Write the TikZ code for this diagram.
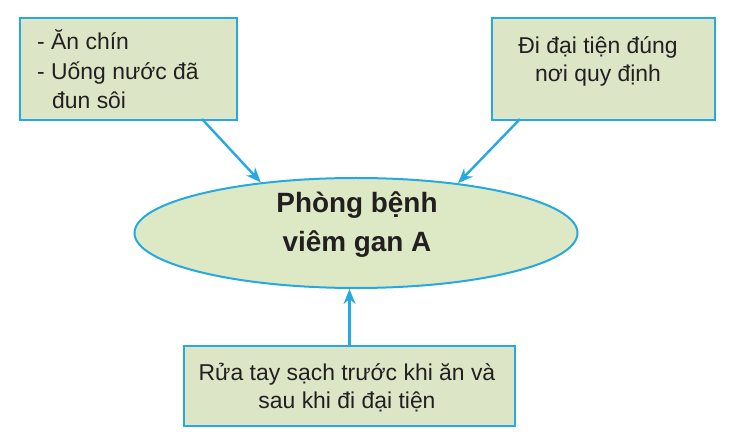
\documentclass[tikz,border=0pt]{standalone}
\usepackage{fontspec}
\setmainfont{Liberation Sans}
\usetikzlibrary{arrows.meta,shapes.geometric}
\definecolor{boxfill}{RGB}{220,230,198}
\definecolor{ellfill}{RGB}{221,233,196}
\definecolor{edge}{RGB}{38,168,224}
\definecolor{ink}{RGB}{35,31,32}
\begin{document}
\begin{tikzpicture}[x=1bp,y=-1bp,
  box/.style={draw=edge,line width=2bp,fill=boxfill,inner sep=0,anchor=north west},
  txt/.style={text=ink,font=\fontsize{23}{29}\selectfont,inner sep=0},
  title/.style={text=ink,font=\fontsize{28}{36}\selectfont\bfseries,inner sep=0,anchor=base},
  arr/.style={draw=edge,line width=2.4bp,-{Stealth[length=15bp,width=12bp,inset=5bp]}}]
\useasboundingbox (0,0) rectangle (732,447);
% boxes
\node[box,minimum width=217bp,minimum height=102bp] (lbox) at (19,17) {};
\node[box,minimum width=223bp,minimum height=102bp] (rbox) at (491,17) {};
\node[box,minimum width=331bp,minimum height=80bp] (bbox) at (183,345) {};
\node[draw=edge,line width=2bp,fill=ellfill,ellipse,inner sep=0,
      minimum width=443bp,minimum height=110bp] (ell) at (356,233) {};
% texts
\node[txt,anchor=base west] (l1) at (37,50) {- Ăn chín};
\node[txt,anchor=base west] (l2) at (37,80) {- Uống nước đã};
\node[txt,anchor=base west] (l3) at (52,109) {đun sôi};
\node[txt,anchor=base] (r1) at (598,54) {Đi đại tiện đúng};
\node[txt,anchor=base] (r2) at (598,82) {nơi quy định};
\node[txt,anchor=base] (b1) at (347,380) {Rửa tay sạch trước khi ăn và};
\node[txt,anchor=base] (b2) at (347,408) {sau khi đi đại tiện};
\node[title] (t1) at (357,213) {Phòng bệnh};
\node[title] (t2) at (357,252) {viêm gan A};
% connectors
\coordinate (lstart) at (202,119);
\coordinate (rstart) at (520,119);
\draw[arr] (lstart) -- (ell.152);
\draw[arr] (rstart) -- (ell.26);
\draw[arr] (bbox.north) -- (bbox.north |- ell.south);
\end{tikzpicture}
\end{document}
